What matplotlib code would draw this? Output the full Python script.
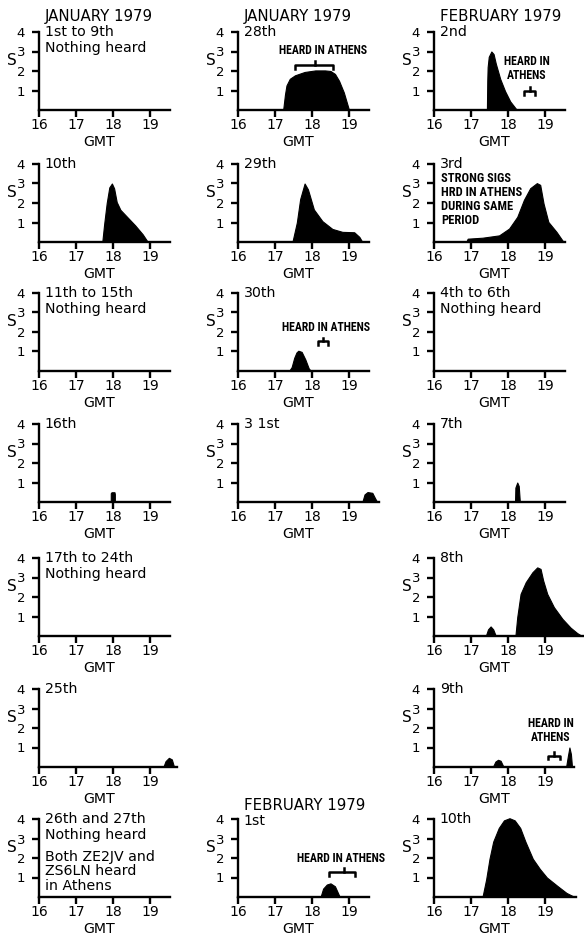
import matplotlib
matplotlib.use('Agg')
import matplotlib.pyplot as plt
from matplotlib import font_manager as fm

# ---------------- data ----------------
hour_ticks = [16, 17, 18, 19]
hour_labels = ['16', '17', '18', '19']
s_ticks = [1, 2, 3, 4]
s_labels = ['1', '2', '3', '4']

jan10_t = [17.71, 17.76, 17.83, 17.90, 17.97, 18.03, 18.10, 18.20, 18.40, 18.60, 18.80, 18.94]
jan10_s = [0, 0.9, 2.0, 2.8, 3.0, 2.75, 2.05, 1.65, 1.25, 0.85, 0.4, 0]

jan28_t = [17.22, 17.27, 17.31, 17.40, 17.54, 17.80, 18.09, 18.35, 18.50, 18.62, 18.73, 18.86, 19.0]
jan28_s = [0, 0.8, 1.26, 1.6, 1.78, 1.95, 2.03, 2.03, 2.0, 1.85, 1.5, 0.9, 0]
jan28_athens = [17.54, 18.56, 18.09, 2.3]   # start, end, mid, level

jan29_t = [17.47, 17.53, 17.59, 17.68, 17.80, 17.89, 18.05, 18.28, 18.55, 18.82, 19.14, 19.28, 19.36]
jan29_s = [0, 0.5, 1.0, 2.2, 3.0, 2.7, 1.67, 1.07, 0.67, 0.52, 0.5, 0.26, 0]

jan30_t = [17.38, 17.45, 17.52, 17.58, 17.63, 17.72, 17.82, 17.91, 17.97]
jan30_s = [0, 0.2, 0.68, 0.95, 1.04, 0.98, 0.59, 0.14, 0]
jan30_athens = [18.17, 18.44, 18.30, 1.52]

jan16_t = [17.94, 17.94, 17.96, 18.04, 18.05, 18.05]
jan16_s = [0, 0.45, 0.5, 0.5, 0.4, 0]

jan31_t = [19.36, 19.42, 19.50, 19.63, 19.70, 19.76]
jan31_s = [0, 0.39, 0.51, 0.47, 0.21, 0]

jan25_t = [19.36, 19.42, 19.51, 19.59, 19.65]
jan25_s = [0, 0.3, 0.47, 0.39, 0]

feb1_t = [18.23, 18.30, 18.40, 18.50, 18.62, 18.75]
feb1_s = [0, 0.43, 0.64, 0.70, 0.55, 0]
feb1_athens = [18.46, 19.15, 18.87, 1.28]

feb2_t = [17.43, 17.44, 17.45, 17.48, 17.55, 17.61, 17.67, 17.79, 17.92, 18.06, 18.24]
feb2_s = [0, 1.5, 2.2, 2.73, 3.0, 2.87, 2.38, 1.59, 0.97, 0.44, 0]
feb2_athens = [18.42, 18.73, 18.60, 0.97]

feb3_t = [16.87, 16.91, 17.31, 17.76, 18.03, 18.25, 18.43, 18.60, 18.78, 18.87, 18.96, 19.09, 19.31, 19.50]
feb3_s = [0, 0.17, 0.22, 0.34, 0.69, 1.29, 2.16, 2.76, 3.02, 2.93, 1.98, 1.03, 0.52, 0]

feb7_t = [18.19, 18.20, 18.25, 18.29, 18.32]
feb7_s = [0, 0.74, 1.0, 0.82, 0]

feb8a_t = [17.40, 17.46, 17.53, 17.60, 17.67]
feb8a_s = [0, 0.34, 0.49, 0.34, 0]
feb8b_t = [18.20, 18.25, 18.34, 18.48, 18.66, 18.79, 18.88, 18.95, 19.06, 19.24, 19.47, 19.69, 19.87, 20.0]
feb8b_s = [0, 0.97, 2.16, 2.76, 3.27, 3.52, 3.44, 2.85, 2.16, 1.48, 0.88, 0.43, 0.15, 0]

feb9a_t = [17.59, 17.66, 17.73, 17.80, 17.88]
feb9a_s = [0, 0.28, 0.37, 0.32, 0]
feb9b_t = [19.57, 19.62, 19.66, 19.70, 19.73]
feb9b_s = [0, 0.58, 1.0, 0.67, 0]
feb9_athens = [19.09, 19.41, 19.25, 0.58]

feb10_t = [17.31, 17.41, 17.50, 17.60, 17.75, 17.89, 18.04, 18.18, 18.33, 18.47, 18.67, 18.86, 19.05, 19.34, 19.58, 19.80]
feb10_s = [0, 0.91, 1.96, 2.84, 3.54, 3.93, 4.04, 3.93, 3.54, 2.84, 1.96, 1.44, 1.0, 0.56, 0.21, 0]

# ---------------- fonts ----------------
names = {f.name for f in fm.fontManager.ttflist}
narrow = None
for cand in ['Liberation Sans Narrow', 'Roboto Condensed', 'DejaVu Sans Condensed', 'Open Sans Condensed']:
    if cand in names:
        narrow = cand
        break
if narrow is None:
    has_cond = any(f.name == 'DejaVu Sans' and f.stretch == 'condensed' for f in fm.fontManager.ttflist)
    NARROW = dict(family='DejaVu Sans', fontstretch='condensed', fontweight='bold')
    NSCALE = 1.0 if has_cond else 0.8
else:
    NARROW = dict(family=narrow, fontweight='bold')
    NSCALE = 1.0

plt.rcParams['font.family'] = ['DejaVu Sans']

# ---------------- layout ----------------
W, H = 584, 936
fig = plt.figure(figsize=(W / 100, H / 100), dpi=100)
fig.patch.set_facecolor('white')

PX_H = 37.0
PX_S = 19.5
XMIN, XMAX = 16, 20.05
YMAX = 4.6
col_x = [39, 238, 434]
row_y = [110, 242, 371, 502, 636, 767, 897]
LW = 1.7
TXT = 10.2
TITLE = 10.8


def make_ax(r, c, xend=19.55):
    x0, y0 = col_x[c], row_y[r]
    ax = fig.add_axes([x0 / W, 1 - y0 / H, (XMAX - XMIN) * PX_H / W, YMAX * PX_S / H])
    ax.set_xlim(XMIN, XMAX)
    ax.set_ylim(0, YMAX)
    ax.patch.set_alpha(0)
    for s in ['top', 'right']:
        ax.spines[s].set_visible(False)
    for s in ['left', 'bottom']:
        ax.spines[s].set_linewidth(LW)
    ax.spines['left'].set_bounds(0, 4)
    ax.spines['bottom'].set_bounds(16, xend)
    ax.set_xticks(hour_ticks)
    ax.set_xticklabels(hour_labels, fontsize=10)
    ax.set_yticks(s_ticks)
    ax.set_yticklabels(s_labels, fontsize=9.5)
    ax.tick_params(axis='both', direction='out', length=5, width=LW)
    ax.tick_params(axis='x', pad=0.5)
    ax.tick_params(axis='y', pad=5)
    ax.text(17.62, -1.62, 'GMT', ha='center', va='center', fontsize=10.2)
    ax.text(15.27, 2.56, 'S', ha='center', va='center', fontsize=11)
    return ax


def labels(ax, txt, y, va='top', ls=1.22):
    ax.text(16.16, y, txt, ha='left', va=va, fontsize=TXT, linespacing=ls)


def shape(ax, t, s):
    ax.fill_between(t, s, 0, color='black', linewidth=0.8, edgecolor='black', zorder=3)


def bracket(ax, b, d=0.22):
    x1, x2, xc, y = b
    ax.plot([x1, x1, x2, x2], [y - d, y, y, y - d], color='black', lw=1.8, clip_on=False)
    ax.plot([xc, xc], [y, y + d], color='black', lw=1.8, clip_on=False)


def athens(ax, x, y, txt, size=8.5, ha='center', ls=1.0):
    ax.text(x, y, txt, ha=ha, va='center', fontsize=size * NSCALE, linespacing=ls, **NARROW)


def title(ax, txt, y=4.78):
    ax.text(16.16, y, txt, ha='left', va='center', fontsize=TITLE)


TOP = 4.36  # top of the first label line

# Row 1
ax = make_ax(0, 0)
title(ax, 'JANUARY 1979')
labels(ax, '1st to 9th\nNothing heard', TOP)

ax = make_ax(0, 1)
title(ax, 'JANUARY 1979')
labels(ax, '28th', TOP)
shape(ax, jan28_t, jan28_s)
bracket(ax, jan28_athens)
athens(ax, 18.31, 3.07, 'HEARD IN ATHENS')

ax = make_ax(0, 2)
title(ax, 'FEBRUARY 1979')
labels(ax, '2nd', TOP)
shape(ax, feb2_t, feb2_s)
bracket(ax, feb2_athens)
athens(ax, 18.51, 2.12, 'HEARD IN\nATHENS', ls=1.1)

# Row 2
ax = make_ax(1, 0)
labels(ax, '10th', TOP)
shape(ax, jan10_t, jan10_s)

ax = make_ax(1, 1)
labels(ax, '29th', TOP)
shape(ax, jan29_t, jan29_s)

ax = make_ax(1, 2)
labels(ax, '3rd', TOP)
shape(ax, feb3_t, feb3_s)
athens(ax, 16.2, 2.17, 'STRONG SIGS\nHRD IN ATHENS\nDURING SAME\nPERIOD', size=9, ha='left', ls=1.08)

# Row 3
ax = make_ax(2, 0)
labels(ax, '11th to 15th\nNothing heard', TOP)

ax = make_ax(2, 1)
labels(ax, '30th', TOP)
shape(ax, jan30_t, jan30_s)
bracket(ax, jan30_athens, d=0.18)
athens(ax, 18.37, 2.23, 'HEARD IN ATHENS')

ax = make_ax(2, 2)
labels(ax, '4th to 6th\nNothing heard', TOP)

# Row 4
ax = make_ax(3, 0)
labels(ax, '16th', TOP)
shape(ax, jan16_t, jan16_s)

ax = make_ax(3, 1, xend=19.8)
labels(ax, '3 1st', TOP)
shape(ax, jan31_t, jan31_s)

ax = make_ax(3, 2)
labels(ax, '7th', TOP)
shape(ax, feb7_t, feb7_s)

# Row 5
ax = make_ax(4, 0)
labels(ax, '17th to 24th\nNothing heard', TOP)

ax = make_ax(4, 2, xend=20.02)
labels(ax, '8th', TOP)
shape(ax, feb8a_t, feb8a_s)
shape(ax, feb8b_t, feb8b_s)

# Row 6
ax = make_ax(5, 0, xend=19.72)
labels(ax, '25th', TOP)
shape(ax, jan25_t, jan25_s)

ax = make_ax(5, 2, xend=19.78)
labels(ax, '9th', TOP)
shape(ax, feb9a_t, feb9a_s)
shape(ax, feb9b_t, feb9b_s)
bracket(ax, feb9_athens, d=0.18)
athens(ax, 19.15, 1.88, 'HEARD IN\nATHENS', ls=1.15)

# Row 7
ax = make_ax(6, 0)
labels(ax, '26th and 27th\nNothing heard', TOP, ls=1.22)
labels(ax, 'Both ZE2JV and\nZS6LN heard\nin Athens', 1.32, va='center', ls=1.06)

ax = make_ax(6, 1)
title(ax, 'FEBRUARY 1979', y=4.7)
labels(ax, '1st', 4.28)
shape(ax, feb1_t, feb1_s)
bracket(ax, feb1_athens)
athens(ax, 18.78, 1.96, 'HEARD IN ATHENS')

ax = make_ax(6, 2, xend=19.85)
labels(ax, '10th', TOP)
shape(ax, feb10_t, feb10_s)

fig.savefig('out.png', dpi=100, facecolor='white')
